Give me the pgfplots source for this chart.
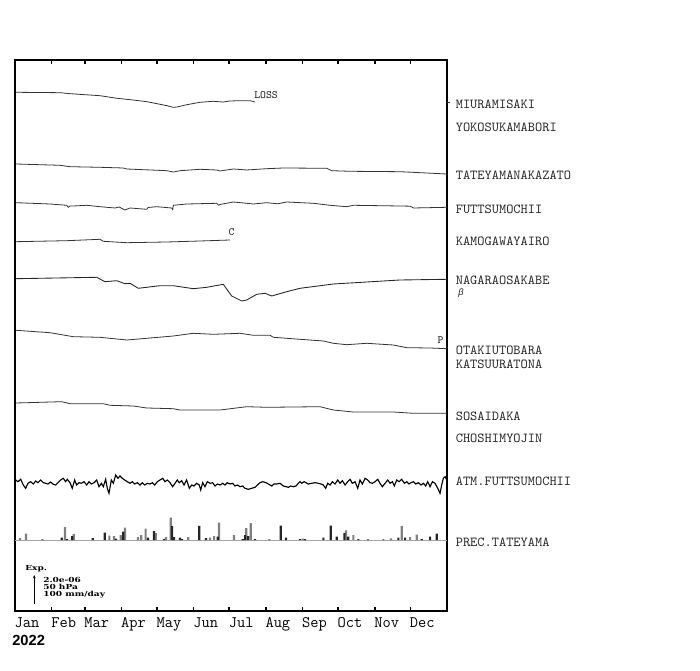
\documentclass[border=0pt]{standalone}
\usepackage{pgfplots}
\pgfplotsset{compat=1.18}
\usetikzlibrary{arrows.meta}
\usepackage{fontspec}
\setmainfont{Liberation Serif}
\newfontfamily\yearfont{Liberation Sans}
\newfontfamily\expfont{DejaVu Serif}[FakeStretch=1.3]

\begin{document}
\begin{tikzpicture}[
 lab/.style={anchor=base west, font=\ttfamily\fontsize{10.3}{12}\selectfont, text=black!85, inner sep=0pt},
 sm/.style={anchor=base west, font=\ttfamily\fontsize{8.3}{10}\selectfont, text=black!85, inner sep=0pt},
 ex/.style={anchor=base west, inner sep=0pt, font=\expfont\bfseries\fontsize{5.2}{6}\selectfont},
]
\begin{axis}[
 width=324pt, height=413.25pt, scale only axis,
 xmin=0, xmax=365, ymin=-71, ymax=480,
 axis line style={line width=1.3pt},
 xtick={0,31,59,90,120,151,181,212,243,273,304,334},
 xticklabels={Jan,Feb,Mar,Apr,May,Jun,Jul,Aug,Sep,Oct,Nov,Dec},
 xtick pos=both, xticklabel pos=lower, tick align=inside, major tick length=3pt,
 tick style={line width=1.1pt, black},
 x tick label style={font=\ttfamily\fontsize{12}{14}\selectfont, anchor=base west, yshift=-12.2pt, xshift=-0.5pt, inner sep=0pt},
 ytick=\empty,
 clip=false,
]
% fixed picture frame (700 x 670 px)
\path (axis cs:-12.67,-130) rectangle (axis cs:578.76,540);

% MIURAMISAKI
\addplot[black!80, line width=0.6pt] coordinates {(0.8,447.7)(38,447.3)(46.5,446.3)(71.8,444.3)(86.2,441.7)(99.7,440)(111.5,438.3)(128.4,434.3)(133.5,432.7)(136.9,433)(145.3,435.3)(156.3,437.7)(167.3,438.7)(175.7,438)(181.7,439)(190.1,439.3)(198.6,439.3)(202.8,438)};
% TATEYAMANAKAZATO
\addplot[black!80, line width=0.6pt] coordinates {(0.8,376)(38,374.7)(46.5,373.3)(71.8,372.7)(91.5,372)(94.4,371)(128.2,369.3)(133.8,368)(139.4,369.3)(156.3,370.7)(170.4,370)(173.2,369)(184.5,371)(195.8,370)(212.7,371.3)(226.7,372)(263.4,371.7)(267.6,369.3)(283.1,368.7)(325.3,368.3)(364.8,366)};
% FUTTSUMOCHII
\addplot[black!80, line width=0.6pt] coordinates {(0.8,337.3)(29.6,336)(43.7,334.7)(45,332.7)(46.5,334)(49.3,334)(60.6,334.7)(71.8,333.3)(84.5,332)(88,333)(92.9,330)(97.2,332)(111.3,330.7)(112.5,332.5)(119.7,333.3)(132.4,332)(133.2,330.5)(133.8,334.7)(145.1,336)(170.4,336.7)(172,334.8)(173.2,335.5)(184.5,338)(195.8,336.7)(201.4,336)(212.7,337.3)(222,336.2)(229.6,338)(252,336.7)(266.2,334.7)(280.3,333.3)(285.9,334.7)(325.3,334)(334,333.8)(336.6,332)(364.8,332.7)};
% KAMOGAWAYAIRO
\addplot[black!80, line width=0.6pt] coordinates {(0.8,298.3)(43.7,299.3)(71.8,300.7)(74.6,298.7)(94.4,297.3)(128.2,298)(156.3,299)(181.7,300)};
% NAGARAOSAKABE
\addplot[black!85, line width=0.65pt] coordinates {(0.8,261.3)(69,262.7)(76,258.3)(85.9,259.3)(92.9,256.3)(97.2,256.7)(104.2,251.7)(122.5,254.3)(133.8,254.3)(150.7,251.3)(162,252.7)(176,255.7)(183.1,244)(191.6,239)(195.8,240)(204.2,245.7)(211.3,246.7)(216.9,244)(229.6,248.3)(240.8,251.7)(269,256)(297.2,258)(325.3,260)(364.8,260.7)};
% OTAKIUTOBARA
\addplot[black!80, line width=0.6pt] coordinates {(0.8,209.7)(29.6,207.3)(49.3,203.3)(71.8,202.7)(94.4,200)(111.3,201.7)(133.8,204)(150.7,206.7)(167.6,205.7)(190.1,206.7)(201.4,204.7)(215.5,204.7)(218.3,202.7)(240.8,200.7)(260.5,199)(269,196.7)(280.3,195.3)(297.2,196.7)(319.6,195)(331,192.3)(350.7,192)(364.8,191.3)};
% SOSAIDAKA
\addplot[black!80, line width=0.6pt] coordinates {(0.8,137)(39.5,138.3)(46.5,136.3)(74.6,136.3)(80.3,134.7)(100,134)(111.3,132)(133.8,131.3)(139.4,130)(173.2,130)(195.8,133.3)(212.7,132.7)(257.7,133.3)(269,130)(285.9,128)(319.6,128)(336.6,126.7)(364.8,126.7)};
% ATM.FUTTSUMOCHII
\addplot[black, line width=0.85pt] coordinates {(0.6,60)(2.5,58.3)(4.8,60.7)(7.0,55)(9.0,51.7)(11.0,56.7)(13.2,58.3)(15.5,56)(17.5,59)(19.4,57.3)(21.7,60)(23.9,57.3)(25.9,56.7)(27.9,56)(30.1,58)(32.4,55.7)(34.4,55)(36.3,57.3)(38.6,60)(40.8,61.7)(42.8,58.3)(44.2,60.7)(46.5,57.3)(48.4,51.7)(50.4,60)(52.1,55)(54.1,57.3)(56.1,56.7)(58.3,58.3)(60.6,55)(62.5,58.3)(64.5,56)(66.8,57.3)(69.0,60)(71.0,53.3)(73.0,56.7)(74.6,53.3)(76.6,60.7)(78.0,51.7)(79.4,46.7)(81.4,60)(83.1,56.7)(85.1,65)(87.0,61.7)(88.7,64)(90.7,61.7)(92.7,60)(94.9,58.3)(97.2,56.7)(99.2,58.3)(101.1,56)(103.4,57.3)(105.6,55)(107.6,57.3)(109.6,55)(111.8,56.7)(114.1,56)(116.1,57.3)(118.0,55)(120.3,58.3)(122.5,60)(124.8,61.7)(126.7,58.3)(128.7,60)(131,57.3)(133.2,53.3)(135.2,56.7)(137.1,60)(138.8,57.3)(140.8,59.3)(142.8,55)(145,60)(147.3,51.7)(149.3,55)(151.2,54)(153.5,56.7)(155.7,55)(156.9,50)(158.6,57.3)(160.5,53.3)(162.5,58.3)(164.8,56.7)(167,57.3)(169,54)(171,56)(173.2,55)(175.5,56.7)(177.4,55)(179.4,57.3)(181.7,56)(183.9,56.7)(185.9,54)(187.9,55)(190.1,53.3)(192.4,54)(194.3,51.7)(197.1,50.7)(200,51.7)(202.8,52.7)(204.8,55)(207,57.3)(209.3,58.3)(212.1,57.3)(214.1,56)(216.9,54)(218.8,56)(221.1,56)(223.9,56.7)(226.7,54)(229,53.3)(231,52.7)(232.9,54)(235.2,53.3)(237.4,54)(239.4,56.7)(240.8,58.3)(242.2,56.7)(244.2,58.3)(247.9,56)(250.7,56.7)(253.5,57.3)(256.3,56.7)(258.6,56)(260.5,55)(262.5,51.7)(264.2,56.7)(266.2,55)(268.1,58.3)(270.4,56)(272.7,60)(274.6,56.7)(276.6,59.3)(278.9,55)(281.1,58.3)(283.1,60.7)(285,56.7)(287.3,58.3)(289.6,51.7)(291.5,60)(293.5,56)(295.8,61.7)(298,60)(300,57.3)(302,56.7)(304.2,58.3)(306.5,60.7)(308.4,56.7)(310.4,53.3)(312.7,56.7)(314.9,60)(316.9,56.7)(318.9,58.3)(320.5,54)(322.5,60)(324.5,58.3)(326.7,60.7)(329,56.7)(331,58.3)(332.9,56)(334.6,57.3)(336.6,58.3)(338.6,56)(340.8,57.3)(343.1,55)(345.1,56.7)(347,54)(348.7,58.3)(350.7,53.3)(352.7,58.3)(354.9,56.7)(357.2,51.7)(359.1,46.7)(360.5,55)(361.9,61.7)(363.4,63.3)(364.8,60)};
% PREC.TATEYAMA baseline
\addplot[gray!70, line width=0.7pt] coordinates {(0,0)(365,0)};
\addplot[ybar, bar width=1.6pt, bar shift=0pt, fill=black!50, draw=none] coordinates {(4.2,2)(9.3,6.5)(42.3,13)(49.6,6)(79.7,4.5)(83.7,4)(89.3,5)(92.9,12.5)(103.9,3)(106.7,5)(110.4,11.5)(118.9,7)(127.6,3)(131.6,22.5)(146.4,3)(164.8,2.5)(168.2,4)(172.4,17.5)(185,5)(195.4,12)(199.2,17)(243.1,1.5)(279.7,9.7)(285.9,5)(317.7,1.7)(326.8,14)(333.8,3)(339.4,5.5)};
\addplot[ybar, bar width=1.6pt, bar shift=0pt, fill=black!85, draw=none] coordinates {(23.1,0.7)(39.5,2.5)(43.9,1)(48.4,4)(65.7,2)(75.8,7.5)(85.3,1.5)(91.5,8.5)(112.4,2.5)(117.5,9)(125.9,1)(132.7,14)(134.4,3)(139.4,2.5)(141.1,1)(155.7,14.2)(161.4,2)(171.3,3.5)(192.4,1)(194.4,5)(197.1,4)(202.8,1)(214.9,0.7)(224.5,14.5)(229,2.5)(240.8,1)(245.1,1)(260.5,2.5)(266.8,14.5)(271.8,3.5)(278.3,7)(281.6,3.5)(290.1,1)(298.3,0.7)(311.2,0.7)(323.9,2.5)(329.6,2.5)(343.7,1)(350.7,3.5)(356.3,6.5)};

% reference tick for MIURAMISAKI
\draw[black!80, line width=0.6pt] (axis cs:365,438) -- (axis cs:367.2,438);

% small annotations
\node[sm] at (axis cs:202,441) {LOSS};
\node[sm] at (axis cs:180.2,304.7) {C};
\node[sm] at (axis cs:356.8,196) {P};

% station labels
\node[lab] at (axis cs:372.2,431.7) {MIURAMISAKI};
\node[lab] at (axis cs:372.2,408.3) {YOKOSUKAMABORI};
\node[lab] at (axis cs:372.2,360) {TATEYAMANAKAZATO};
\node[lab] at (axis cs:372.2,326.7) {FUTTSUMOCHII};
\node[lab] at (axis cs:372.2,294.3) {KAMOGAWAYAIRO};
\node[lab] at (axis cs:372.2,255) {NAGARAOSAKABE};
\node[anchor=base west, font=\yearfont\fontsize{7}{9}\selectfont\itshape, text=black!85, inner sep=0pt] at (axis cs:374.3,244) {β};
\node[lab] at (axis cs:372.2,185) {OTAKIUTOBARA};
\node[lab] at (axis cs:372.2,171) {KATSUURATONA};
\node[lab] at (axis cs:372.2,120) {SOSAIDAKA};
\node[lab] at (axis cs:372.2,97.3) {CHOSHIMYOJIN};
\node[lab] at (axis cs:372.2,55) {ATM.FUTTSUMOCHII};
\node[lab] at (axis cs:372.2,-6.7) {PREC.TATEYAMA};

% scale legend
\node[ex] at (axis cs:8.45,-30.7) {Exp.};
\draw[black, line width=0.6pt, -{Stealth[length=2.5pt,width=2pt]}] (axis cs:16.3,-64) -- (axis cs:16.3,-35);
\node[ex] at (axis cs:23.7,-42.7) {2.0e-06};
\node[ex] at (axis cs:23.7,-49.3) {50 hPa};
\node[ex] at (axis cs:23.7,-56) {100 mm/day};

% year
\node[anchor=base west, inner sep=0pt, font=\yearfont\bfseries\fontsize{11}{13}\selectfont] at (axis cs:-2.5,-105) {2022};
\end{axis}
\end{tikzpicture}
\end{document}
